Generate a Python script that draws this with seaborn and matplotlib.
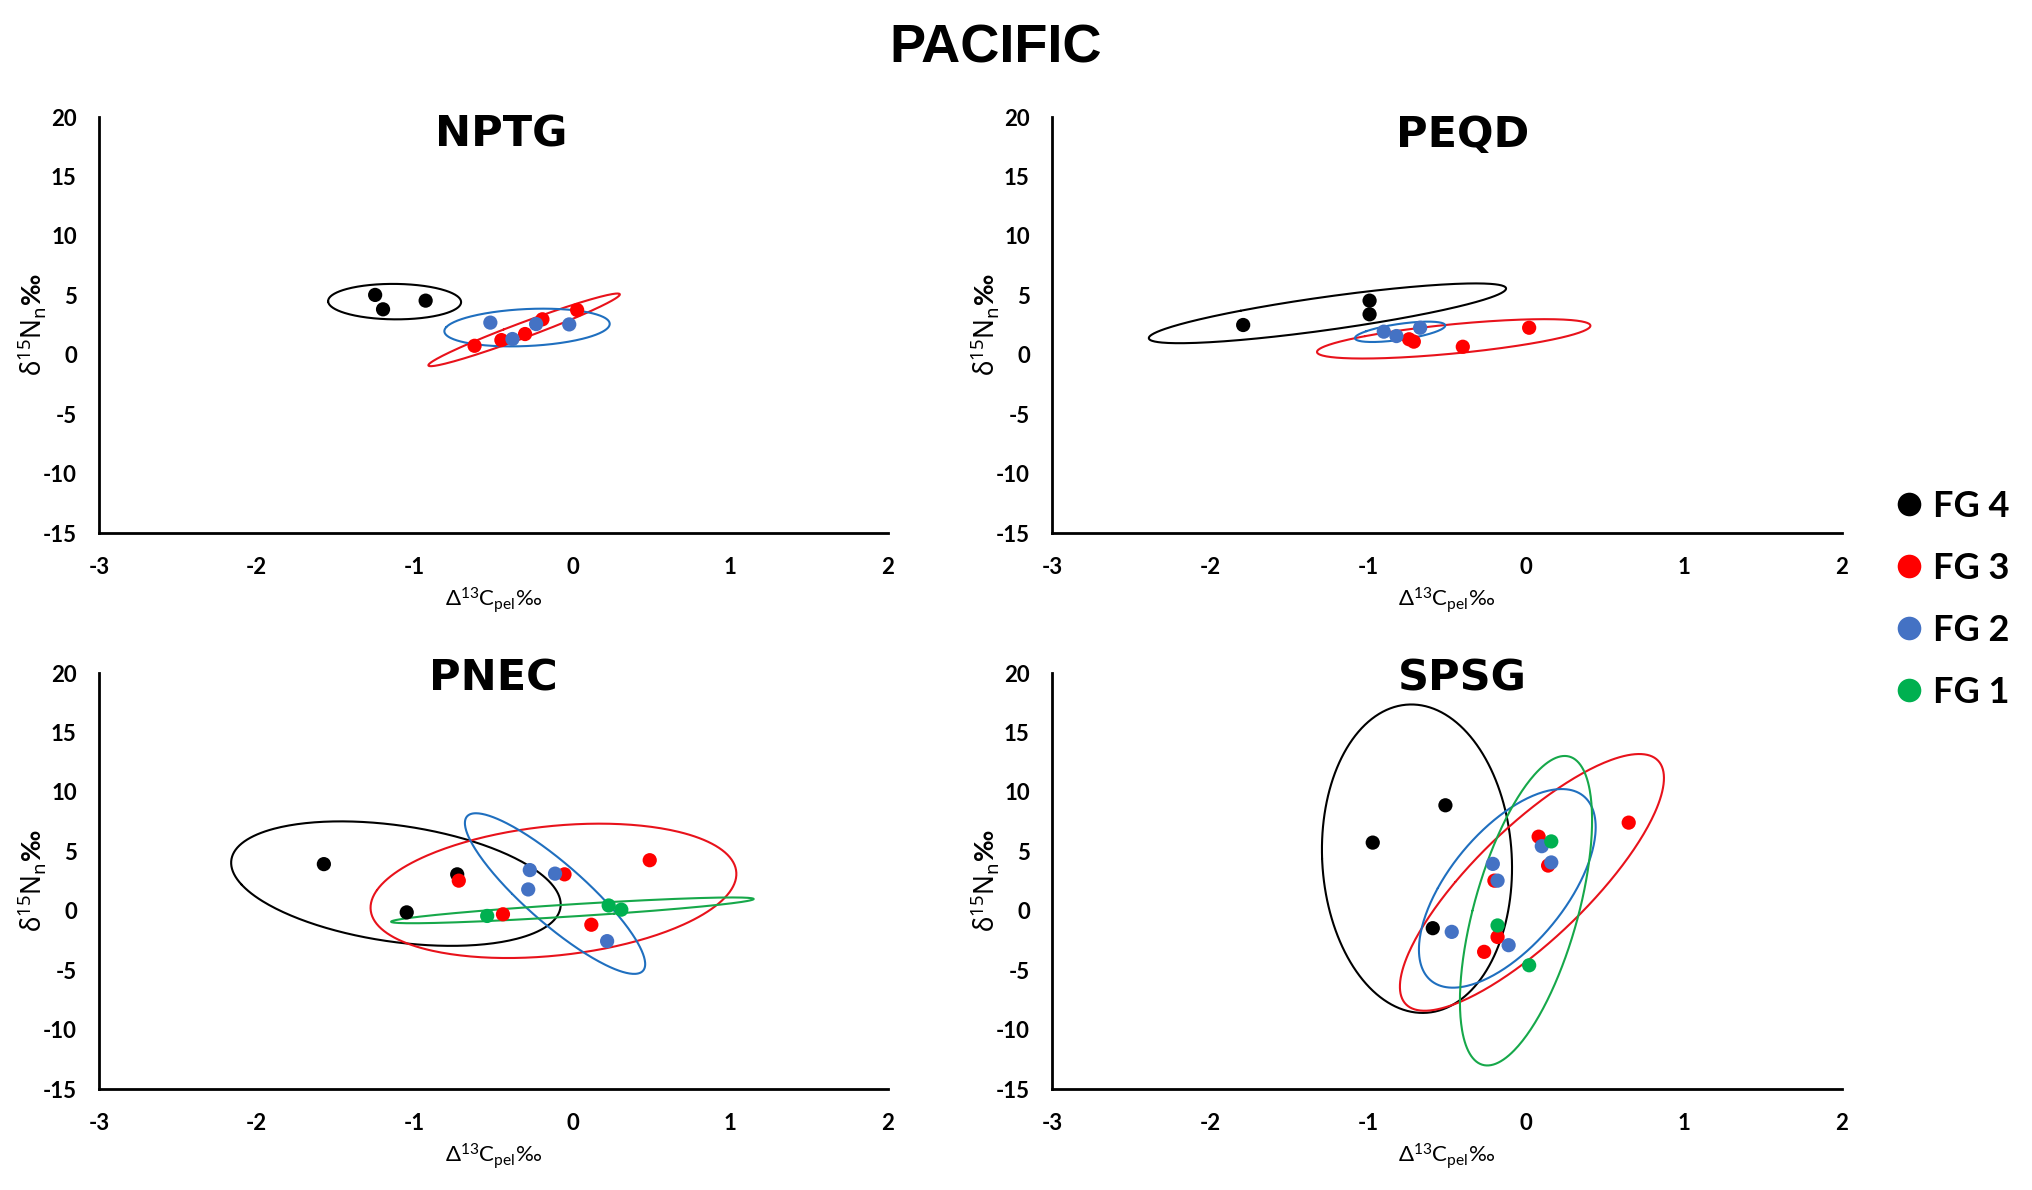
import numpy as np
import pandas as pd
import matplotlib
matplotlib.use("Agg")
import matplotlib.pyplot as plt
import seaborn as sns
from matplotlib.lines import Line2D

# ---------------- data ----------------
groups = ["FG 4", "FG 3", "FG 2", "FG 1"]
point_colors = ["#000000", "#FF0000", "#4472C4", "#00B050"]
ellipse_colors = ["#000000", "#E8121B", "#1F6FBF", "#16A84A"]

panel_names = ["NPTG", "PEQD", "PNEC", "SPSG"]

nptg_group = ["FG 4"] * 3 + ["FG 3"] * 5 + ["FG 2"] * 4
nptg_x = [-1.25, -1.20, -0.93, -0.62, -0.45, -0.30, -0.19, 0.03, -0.52, -0.38, -0.23, -0.02]
nptg_y = [5.03, 3.82, 4.55, 0.75, 1.23, 1.74, 2.98, 3.76, 2.70, 1.32, 2.58, 2.55]

peqd_group = ["FG 4"] * 3 + ["FG 3"] * 4 + ["FG 2"] * 3
peqd_x = [-1.79, -0.99, -0.99, -0.74, -0.71, -0.40, 0.02, -0.90, -0.82, -0.67]
peqd_y = [2.50, 4.55, 3.40, 1.30, 1.10, 0.67, 2.27, 1.94, 1.57, 2.27]

pnec_group = ["FG 4"] * 3 + ["FG 3"] * 5 + ["FG 2"] * 4 + ["FG 1"] * 3
pnec_x = [-1.575, -0.73, -1.05, -0.72, -0.44, -0.05, 0.12, 0.49, -0.27, -0.11, -0.28, 0.22, -0.54, 0.23, 0.31]
pnec_y = [3.92, 3.06, -0.14, 2.53, -0.30, 3.06, -1.18, 4.25, 3.42, 3.12, 1.79, -2.56, -0.44, 0.44, 0.09]

spsg_group = ["FG 4"] * 3 + ["FG 3"] * 6 + ["FG 2"] * 6 + ["FG 1"] * 3
spsg_x = [-0.97, -0.51, -0.59, 0.08, 0.14, -0.20, -0.18, -0.265, 0.65,
          0.10, 0.16, -0.21, -0.18, -0.47, -0.11, 0.16, -0.18, 0.02]
spsg_y = [5.73, 8.87, -1.47, 6.23, 3.80, 2.53, -2.21, -3.46, 7.41,
          5.43, 4.06, 3.94, 2.53, -1.78, -2.90, 5.83, -1.24, -4.59]

x_ticks = [-3, -2, -1, 0, 1, 2]
y_ticks = [-15, -10, -5, 0, 5, 10, 15, 20]

panel_data = {
    "NPTG": (nptg_x, nptg_y, nptg_group),
    "PEQD": (peqd_x, peqd_y, peqd_group),
    "PNEC": (pnec_x, pnec_y, pnec_group),
    "SPSG": (spsg_x, spsg_y, spsg_group),
}

# ---------------- style ----------------
sns.set_theme(style="white")
plt.rcParams["font.family"] = ["Lato", "DejaVu Sans"]
plt.rcParams["text.color"] = "black"
plt.rcParams["axes.labelcolor"] = "black"
plt.rcParams["xtick.color"] = "black"
plt.rcParams["ytick.color"] = "black"
plt.rcParams["mathtext.fontset"] = "custom"
plt.rcParams["mathtext.rm"] = "Noto Sans"
plt.rcParams["mathtext.it"] = "Noto Sans:italic"
plt.rcParams["mathtext.bf"] = "Noto Sans:bold"
plt.rcParams["mathtext.fallback"] = "stixsans"

W, H = 2032, 1190
fig = plt.figure(figsize=(W / 100, H / 100), dpi=100)

axes_px = {
    "NPTG": (99, 117, 888, 533),
    "PEQD": (1052, 117, 1842, 533),
    "PNEC": (99, 673, 888, 1089),
    "SPSG": (1052, 673, 1842, 1089),
}
title_pos = {"NPTG": (0.51, 0.928), "PEQD": (0.52, 0.928),
             "PNEC": (0.50, 0.959), "SPSG": (0.52, 0.959)}

palette = dict(zip(groups, point_colors))
chi = np.sqrt(5.991)  # 95% ellipse


def draw_ellipse(ax, xs, ys, color):
    pts = np.column_stack([xs, ys])
    mu = pts.mean(axis=0)
    cov = np.cov(pts, rowvar=False)
    vals, vecs = np.linalg.eigh(cov)
    vals = np.clip(vals, 0, None)
    t = np.linspace(0, 2 * np.pi, 300)
    circ = np.vstack([np.cos(t), np.sin(t)])
    curve = (vecs @ np.diag(np.sqrt(vals) * chi) @ circ).T + mu
    ax.plot(curve[:, 0], curve[:, 1], color=color, lw=1.5, zorder=2)


for name in panel_names:
    x0, y0, x1, y1 = axes_px[name]
    ax = fig.add_axes([x0 / W, 1 - y1 / H, (x1 - x0) / W, (y1 - y0) / H])
    xs, ys, gs = panel_data[name]
    df = pd.DataFrame({"x": xs, "y": ys, "group": gs})

    for g, ec in zip(groups, ellipse_colors):
        sub = df[df["group"] == g]
        if len(sub) >= 3:
            draw_ellipse(ax, sub["x"].values, sub["y"].values, ec)

    sns.scatterplot(data=df, x="x", y="y", hue="group", palette=palette,
                    hue_order=[g for g in groups if g in set(gs)],
                    s=105, linewidth=0, legend=False, ax=ax, zorder=3)

    ax.set_xlim(-3, 2)
    ax.set_ylim(-15, 20)
    ax.set_xticks(x_ticks)
    ax.set_yticks(y_ticks)
    ax.set_xticklabels([str(v) for v in x_ticks])
    ax.set_yticklabels([str(v) for v in y_ticks])
    sns.despine(ax=ax)
    for sp in ["left", "bottom"]:
        ax.spines[sp].set_linewidth(2.0)
        ax.spines[sp].set_color("black")
    ax.tick_params(axis="both", which="major", direction="out", length=5, width=2,
                   color="black", labelsize=16, labelcolor="black")
    ax.tick_params(axis="x", pad=12)
    ax.tick_params(axis="y", pad=11)
    for lab in ax.get_xticklabels() + ax.get_yticklabels():
        lab.set_fontweight("bold")

    ax.set_xlabel(r"$\mathregular{\Delta^{13}C_{pel}}$‰", fontsize=16, va="center",
                  color="black")
    ax.xaxis.set_label_coords(0.5, -0.161)
    ax.set_ylabel(r"$\mathbf{\delta^{15}N_n}$‰", fontsize=19, fontweight="bold",
                  va="center", color="black")
    ax.yaxis.set_label_coords(-0.085, 0.5)

    tx, ty = title_pos[name]
    ax.text(tx, ty, name, transform=ax.transAxes, ha="center", va="baseline",
            fontsize=31, fontweight="bold", color="black", family=["DejaVu Sans"])

fig.text(996 / W, 1 - 62.5 / H, "PACIFIC", ha="center", va="baseline", color="black",
         fontsize=39, fontweight="bold", family=["Liberation Sans", "DejaVu Sans"])

handles = [Line2D([0], [0], marker="o", linestyle="none", markersize=17,
                  markerfacecolor=c, markeredgewidth=0, color=c)
           for c in point_colors]
leg = fig.legend(handles, groups, loc="upper left",
                 bbox_to_anchor=(1891 / W, 1 - 490 / H), bbox_transform=fig.transFigure,
                 frameon=False, borderpad=0, borderaxespad=0, handlelength=1.0,
                 handletextpad=0.17, labelspacing=0.8,
                 prop={"family": ["Lato", "DejaVu Sans"], "weight": "bold", "size": 26})
for t in leg.get_texts():
    t.set_color("black")

fig.savefig("out.png", dpi=100)
